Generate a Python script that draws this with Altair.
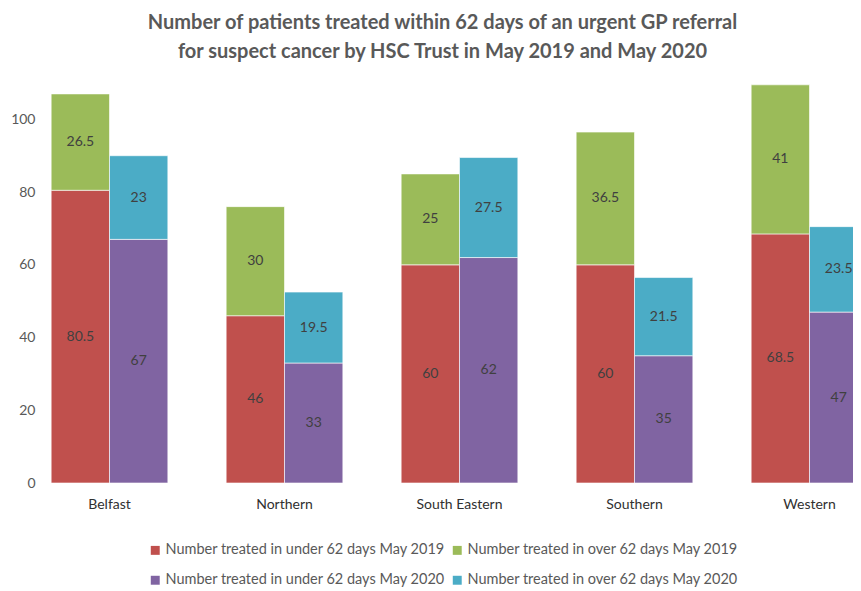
import altair as alt
import pandas as pd

trusts = ["Belfast", "Northern", "South Eastern", "Southern", "Western"]
under_2019 = [80.5, 46, 60, 60, 68.5]
over_2019 = [26.5, 30, 25, 36.5, 41]
under_2020 = [67, 33, 62, 35, 47]
over_2020 = [23, 19.5, 27.5, 21.5, 23.5]

series_names = [
    "Number treated in under 62 days May 2019",
    "Number treated in over 62 days May 2019",
    "Number treated in under 62 days May 2020",
    "Number treated in over 62 days May 2020",
]
colors = ["#C0504D", "#9BBB59", "#8064A2", "#4BACC6"]
title_lines = [
    "Number of patients treated within 62 days of an urgent GP referral",
    "for suspect cancer by HSC Trust in May 2019 and May 2020",
]

rows = []
for i, t in enumerate(trusts):
    rows.append(dict(trust=t, year="2019", seg=0, series=series_names[0], value=under_2019[i]))
    rows.append(dict(trust=t, year="2019", seg=1, series=series_names[1], value=over_2019[i]))
    rows.append(dict(trust=t, year="2020", seg=0, series=series_names[2], value=under_2020[i]))
    rows.append(dict(trust=t, year="2020", seg=1, series=series_names[3], value=over_2020[i]))
df = pd.DataFrame(rows)

# legend fills column-major, so order the domain to read row by row
legend_order = [series_names[0], series_names[2], series_names[1], series_names[3]]
legend_colors = [colors[0], colors[2], colors[1], colors[3]]

FONT = "Lato"
GREY = "#595959"

base = alt.Chart(df).transform_stack(
    stack="value", groupby=["trust", "year"], sort=[alt.SortField("seg")], as_=["y0", "y1"]
).transform_calculate(mid="(datum.y0 + datum.y1) / 2")

x_enc = alt.X(
    "trust:N",
    sort=trusts,
    scale=alt.Scale(range=[-18, 857], paddingInner=0, paddingOuter=0),
    axis=alt.Axis(title=None, labelAngle=0, ticks=False, domain=False, labelFontSize=14,
                  labelColor="#303030", labelFont=FONT, labelPadding=14),
)
xoff_enc = alt.XOffset("year:N", scale=alt.Scale(paddingOuter=0.5, paddingInner=0))

bars = base.mark_bar(clip=True, stroke="white", strokeWidth=0.6).encode(
    x=x_enc,
    xOffset=xoff_enc,
    y=alt.Y("y0:Q", scale=alt.Scale(domain=[0, 110], nice=False),
            axis=alt.Axis(title=None, values=[0, 20, 40, 60, 80, 100], grid=False, domain=False,
                          ticks=False, labelPadding=5, labelFontSize=14, labelColor=GREY,
                          labelFont=FONT)),
    y2="y1:Q",
    color=alt.Color(
        "series:N",
        scale=alt.Scale(domain=legend_order, range=legend_colors),
        legend=alt.Legend(orient="none", legendX=108, legendY=460, columns=2, title=None,
                          symbolType="square", symbolSize=80, symbolStrokeWidth=0,
                          labelFontSize=14.5, labelFont=FONT, labelColor=GREY, labelLimit=400,
                          rowPadding=15, columnPadding=4, labelOffset=3),
    ),
)

text = base.mark_text(clip=True, fontSize=14, color="#404040", font=FONT).encode(
    x=x_enc,
    xOffset=xoff_enc,
    y=alt.Y("mid:Q"),
    text=alt.Text("value:Q"),
)

chart = alt.layer(bars, text).properties(
    width=813,
    height=400,
    title=alt.TitleParams(text=title_lines, font=FONT, fontSize=20, fontWeight="bold",
                          color=GREY, lineHeight=29, anchor="middle", offset=21, dx=-4),
    autosize=alt.AutoSizeParams(type="none"),
    padding={"left": 32, "top": 75, "right": 0, "bottom": 110},
).configure_view(stroke=None)

chart.save("out.html", embed_options={"renderer": "svg", "actions": False})
